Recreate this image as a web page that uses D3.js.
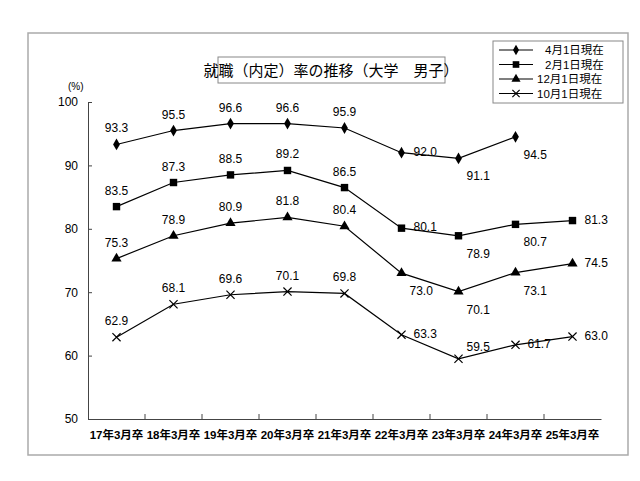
<!DOCTYPE html>
<html><head><meta charset="utf-8">
<script src="https://cdn.jsdelivr.net/npm/d3@7"></script>
<style>body{margin:0;background:#fff}text{font-family:"Liberation Sans","Noto Sans CJK JP",sans-serif}</style>
</head><body>
<script>
const categories = ["17年3月卒","18年3月卒","19年3月卒","20年3月卒","21年3月卒","22年3月卒","23年3月卒","24年3月卒","25年3月卒"];
const apr1 = [93.3,95.5,96.6,96.6,95.9,92.0,91.1,94.5,null];
const feb1 = [83.5,87.3,88.5,89.2,86.5,80.1,78.9,80.7,81.3];
const dec1 = [75.3,78.9,80.9,81.8,80.4,73.0,70.1,73.1,74.5];
const oct1 = [62.9,68.1,69.6,70.1,69.8,63.3,59.5,61.7,63.0];
const yTicks = [50,60,70,80,90,100];
// label placement: a = above, r = right, ar = above right, br = below right
const aprPos = ["a","a","a","a","a","r","br","br",null];
const febPos = ["a","a","a","a","a","r","br","br","r"];
const decPos = ["a","a","a","a","a","br","br","br","r"];
const octPos = ["a","a","a","a","a","r","ar","r","r"];

const series = [
  {name:"4月1日現在", values:apr1, pos:aprPos, sym:d3.symbolDiamond, size:40},
  {name:"2月1日現在", values:feb1, pos:febPos, sym:d3.symbolSquare, size:55},
  {name:"12月1日現在", values:dec1, pos:decPos, sym:d3.symbolTriangle, size:45},
  {name:"10月1日現在", values:oct1, pos:octPos, sym:d3.symbolX, size:45}
];

const svg = d3.select("body").append("svg").attr("width",640).attr("height",481);
svg.append("rect").attr("x",28).attr("y",33).attr("width",600).attr("height",422)
  .attr("fill","#fff").attr("stroke","#aaa").attr("stroke-width",1.5);

const x = d3.scaleBand().domain(categories).range([88,601]);
const y = d3.scaleLinear().domain([50,100]).range([419,102]);

const g = svg.append("g");
g.append("g").attr("transform","translate(0,419)")
  .call(d3.axisBottom(x).tickSize(0).tickPadding(12))
  .call(a=>a.select(".domain").attr("stroke","#444"))
  .selectAll("text").attr("font-size",11.5).attr("fill","#000").attr("font-weight","bold");
g.append("g").selectAll("line").data(categories.slice(1)).join("line")
  .attr("x1",d=>x(d)).attr("x2",d=>x(d)).attr("y1",419).attr("y2",414).attr("stroke","#444");
g.append("g").attr("transform","translate(88,0)")
  .call(d3.axisLeft(y).tickValues(yTicks).tickSize(-4).tickPadding(10))
  .call(a=>a.select(".domain").attr("stroke","#444"))
  .call(a=>a.selectAll("line").attr("stroke","#444"))
  .selectAll("text").attr("font-size",12).attr("fill","#000");
svg.append("text").attr("x",68).attr("y",90).attr("font-size",10).text("(%)");

const cx = (d,i)=>x(categories[i])+x.bandwidth()/2;
const line = d3.line().defined(d=>d!=null).x(cx).y(d=>y(d));
series.forEach(s=>{
  svg.append("path").attr("d",line(s.values)).attr("fill","none").attr("stroke","#000").attr("stroke-width",1.2);
  s.values.forEach((v,i)=>{
    if(v==null) return;
    const px=cx(v,i), py=y(v);
    svg.append("path").attr("d",d3.symbol(s.sym,s.size)()).attr("transform",`translate(${px},${py})`)
      .attr("fill","#000").attr("stroke","#000").attr("stroke-width",s.sym===d3.symbolX?1.2:0);
    const p=s.pos[i];
    let tx=px, ty=py-12, anc="middle";
    if(p==="r"){tx=px+12;ty=py+3;anc="start";}
    if(p==="ar"){tx=px+8;ty=py-8;anc="start";}
    if(p==="br"){tx=px+8;ty=py+22;anc="start";}
    svg.append("text").attr("x",tx).attr("y",ty).attr("text-anchor",anc).attr("font-size",12).text(v.toFixed(1));
  });
});

svg.append("rect").attr("x",218).attr("y",57).attr("width",227).attr("height",26).attr("fill","#fff").attr("stroke","#888");
svg.append("text").attr("x",331).attr("y",76).attr("text-anchor","middle").attr("font-size",15).text("就職（内定）率の推移（大学\u3000男子）");

const lg = svg.append("g").attr("transform","translate(493,41)");
lg.append("rect").attr("width",130).attr("height",62).attr("fill","#fff").attr("stroke","#888");
series.forEach((s,i)=>{
  const yy=9+i*14.5;
  lg.append("line").attr("x1",6).attr("x2",40).attr("y1",yy).attr("y2",yy).attr("stroke","#000").attr("stroke-width",1.2);
  lg.append("path").attr("d",d3.symbol(s.sym,s.size*0.8)()).attr("transform",`translate(23,${yy})`)
    .attr("fill","#000").attr("stroke","#000").attr("stroke-width",s.sym===d3.symbolX?1.2:0);
  lg.append("text").attr("x",i<2?52:44).attr("y",yy+4).attr("font-size",11.5).text(s.name);
});
</script>
</body></html>
